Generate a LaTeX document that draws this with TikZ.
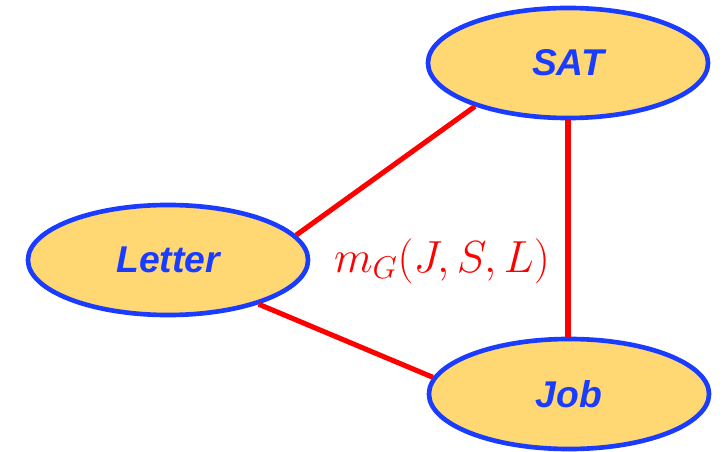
\documentclass[tikz,border=0pt]{standalone}
\usepackage{fix-cm}
\usepackage{fontspec}
\setsansfont{Liberation Sans}
\usetikzlibrary{shapes.geometric}
\definecolor{nodefill}{HTML}{FFD874}
\definecolor{nodeblue}{HTML}{1A3CFF}
\begin{document}
\begin{tikzpicture}[x=0.025cm,y=-0.025cm]
\tikzstyle{every node}=[ellipse,draw=nodeblue,fill=nodefill,line width=3.3pt,minimum width=7cm,minimum height=2.75cm,inner sep=0pt,text=nodeblue,font=\sffamily\bfseries\itshape\fontsize{26.5}{30}\selectfont]
\useasboundingbox (0,0) rectangle (728,452);
\foreach \a/\x/\y/\l in {sat/568/63/SAT, letter/168/260/Letter, job/569/394/Job}{
\path (\x,\y) node (\a) {\l};
}
\path (442,261) node [draw=none,fill=none,text=red,font=\fontsize{32}{36}\selectfont] (mlab) {$m_G(J,S,L)$};
\draw [red,line width=3.6pt] (sat.205) -- (letter.11);
\draw [red,line width=3.6pt] (letter.-26) -- (job.173);
\draw [red,line width=3.6pt] (sat.south) -- (sat.south |- job.north);
\end{tikzpicture}
\end{document}
